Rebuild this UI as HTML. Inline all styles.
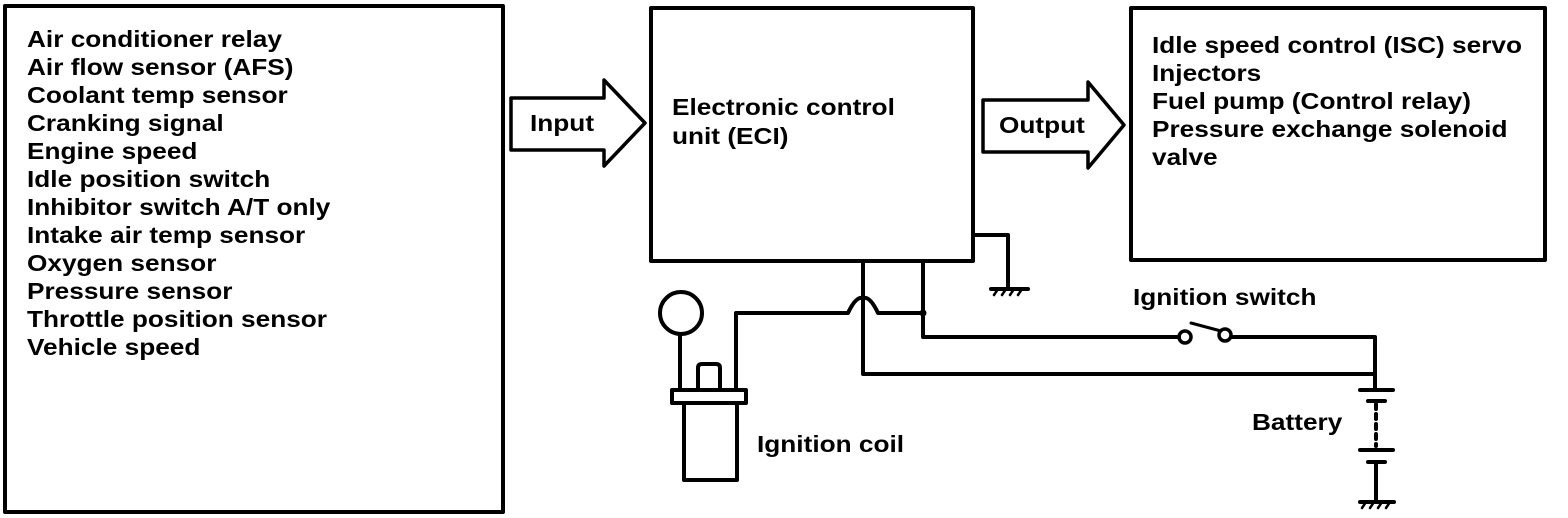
<!DOCTYPE html>
<html><head><meta charset="utf-8"><style>
html,body{margin:0;padding:0;background:#fff;}
svg{display:block}
text{font-family:"Liberation Sans",Arial,sans-serif;font-weight:bold;font-size:23px;fill:#000}
</style></head><body>
<svg width="1568" height="518" viewBox="0 0 1568 518" xmlns="http://www.w3.org/2000/svg">
<g fill="none" stroke="#000" stroke-width="4" stroke-linejoin="round" stroke-linecap="round">
<rect x="5" y="6" width="498" height="506"/>
<rect x="651" y="8" width="322" height="253"/>
<rect x="1131" y="8" width="414" height="252"/>
<path d="M511 98 L604 98 L604 80 L645 123 L604 166 L604 150 L511 150 Z" stroke-width="3.5"/>
<path d="M983 100 L1088 100 L1088 82 L1124 125 L1088 168 L1088 152 L983 152 Z" stroke-width="3.5"/>
<path d="M973 235 L1008 235 L1008 287"/>
<path d="M863 262 L863 374 L1375 374"/>
<path d="M923 262 L923 337 L1179 337"/>
<path d="M1231 337 L1375 337 L1375 388"/>
<path d="M736 388 L736 313 L848 313 Q856 296 863 298 Q870 296 878 313 L923 313"/>
<circle cx="681" cy="313" r="21"/>
<path d="M680 334 L680 390"/>
<path d="M698 390 L698 368 Q698 364 702 364 L716 364 Q720 364 720 368 L720 390 Z M672 390 L746 390 L746 403 L672 403 Z M684 403 L684 480 L737 480 L737 403"/>
<circle cx="1185" cy="337" r="6" stroke-width="3.5"/>
<circle cx="1225" cy="335" r="6" stroke-width="3.5"/>
<path d="M1191 323 L1221 331" stroke-width="3"/>
<path d="M1360 390 L1393 390"/>
<path d="M1368 401 L1385 401"/>
<path d="M1376 404 L1376 446" stroke-dasharray="5 5"/>
<path d="M1360 450 L1393 450"/>
<path d="M1368 462 L1385 462"/>
<path d="M1376 462 L1376 500"/>
<path d="M991 289 L1028 289"/><path d="M994 295 L998 289 M1002 295 L1006 289 M1010 295 L1014 289 M1018 295 L1022 289" stroke-width="2.5"/>
<path d="M1360 502 L1394 502"/><path d="M1362 508 L1366 502 M1370 508 L1374 502 M1378 508 L1382 502 M1386 508 L1390 502" stroke-width="2.5"/>
</g>
<circle cx="923" cy="313" r="3.5" fill="#000"/>
<g transform="translate(27,0) scale(1.14,1)">
<text x="0" y="47">Air conditioner relay</text>
<text x="0" y="75">Air flow sensor (AFS)</text>
<text x="0" y="103">Coolant temp sensor</text>
<text x="0" y="131">Cranking signal</text>
<text x="0" y="159">Engine speed</text>
<text x="0" y="187">Idle position switch</text>
<text x="0" y="215">Inhibitor switch A/T only</text>
<text x="0" y="243">Intake air temp sensor</text>
<text x="0" y="271">Oxygen sensor</text>
<text x="0" y="299">Pressure sensor</text>
<text x="0" y="327">Throttle position sensor</text>
<text x="0" y="355">Vehicle speed</text>
</g>
<g transform="translate(530,0) scale(1.14,1)"><text x="0" y="131">Input</text></g>
<g transform="translate(999,0) scale(1.14,1)"><text x="0" y="133">Output</text></g>
<g transform="translate(672,0) scale(1.14,1)">
<text x="0" y="115">Electronic control</text>
<text x="0" y="144">unit (ECI)</text>
</g>
<g transform="translate(1152,0) scale(1.14,1)">
<text x="0" y="53">Idle speed control (ISC) servo</text>
<text x="0" y="81">Injectors</text>
<text x="0" y="109">Fuel pump (Control relay)</text>
<text x="0" y="137">Pressure exchange solenoid</text>
<text x="0" y="165">valve</text>
</g>
<g transform="translate(1133,0) scale(1.14,1)"><text x="0" y="305">Ignition switch</text></g>
<g transform="translate(1252,0) scale(1.14,1)"><text x="0" y="430">Battery</text></g>
<g transform="translate(757,0) scale(1.14,1)"><text x="0" y="452">Ignition coil</text></g>
</svg>
</body></html>
